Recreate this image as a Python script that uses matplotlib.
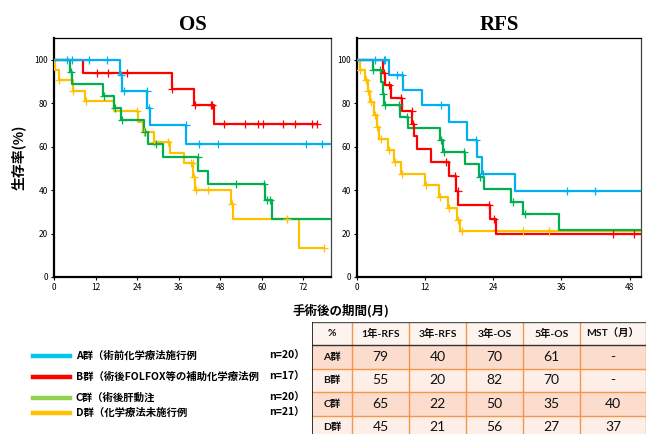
import numpy as np
import matplotlib
matplotlib.use('Agg')
import matplotlib.pyplot as plt
from matplotlib.lines import Line2D
from matplotlib.patches import Rectangle

plt.rcParams['font.family'] = ['Noto Sans CJK JP', 'DejaVu Sans']

W, H = 646, 434

# ---- OS の生存曲線データ (月, %) ----
os_a_t = [19.0, 19.6, 27.0, 27.6, 38.2]
os_a_s = [92.8, 85.7, 78.0, 70.1, 61.4]
os_a_end = 80
os_a_cens = [3.7, 5.1, 10.0, 15.3, 19.3, 20.3, 26.8, 27.3, 38.0, 42.0, 47.5, 72.7, 77.3]

os_b_t = [8.5, 34.0, 40.5, 46.1]
os_b_s = [93.9, 86.7, 79.0, 70.4]
os_b_end = 75.9
os_b_cens = [12.4, 15.5, 21.0, 34.2, 40.7, 45.2, 45.7, 49.0, 55.2, 59.0, 60.4, 66.2, 69.6, 74.4, 75.9]

os_c_t = [4.6, 5.1, 14.1, 17.4, 19.4, 26.0, 27.2, 31.6, 41.7, 44.4, 60.85, 62.9]
os_c_s = [94.5, 88.9, 83.3, 77.7, 72.2, 66.6, 61.0, 55.4, 49.0, 42.8, 35.6, 26.7]
os_c_end = 80
os_c_cens = [4.8, 14.3, 17.6, 19.6, 26.2, 29.6, 41.5, 52.6, 60.7, 61.6, 62.3]

os_d_t = [0.4, 1.4, 5.4, 9.0, 17.2, 24.2, 25.8, 28.9, 33.4, 37.6, 40.2, 40.8, 51.2, 51.6, 70.9]
os_d_s = [95.2, 90.5, 85.7, 81.0, 76.2, 71.4, 66.7, 62.0, 57.0, 52.4, 46.0, 40.0, 33.5, 26.8, 13.4]
os_d_end = 78.1
os_d_cens = [1.5, 5.6, 9.1, 24.0, 25.9, 29.0, 33.0, 39.5, 40.0, 40.5, 40.9, 44.4, 51.4, 67.4, 78.1]

# ---- RFS の生存曲線データ ----
rfs_a_t = [5.7, 8.1, 11.5, 16.2, 19.4, 21.2, 22.0, 27.8]
rfs_a_s = [93.0, 86.2, 79.0, 71.2, 63.2, 55.1, 47.2, 39.5]
rfs_a_end = 50
rfs_a_cens = [3.2, 4.7, 4.9, 7.0, 7.9, 14.8, 21.0, 22.2, 37.0, 41.9]

rfs_b_t = [4.6, 5.0, 6.05, 7.9, 9.7, 10.0, 10.5, 13.1, 16.2, 17.5, 17.8, 23.4, 24.4]
rfs_b_s = [94.1, 88.2, 82.4, 76.5, 70.6, 64.7, 58.8, 52.9, 46.4, 39.8, 33.1, 26.5, 19.8]
rfs_b_end = 50
rfs_b_cens = [4.8, 5.7, 7.8, 9.6, 9.9, 15.6, 17.3, 17.7, 23.2, 24.1, 45.1, 48.8]

rfs_c_t = [2.8, 4.2, 4.5, 4.8, 7.5, 9.0, 14.7, 15.1, 19.0, 21.4, 22.4, 27.2, 29.3, 35.5]
rfs_c_s = [95.1, 89.6, 84.4, 79.2, 73.7, 68.5, 63.2, 57.4, 51.8, 46.1, 40.3, 34.5, 28.8, 21.6]
rfs_c_end = 50
rfs_c_cens = [2.9, 4.1, 4.6, 5.0, 7.4, 8.8, 14.8, 15.3, 18.8, 21.6, 27.4, 29.5]

rfs_d_t = [0.47, 1.35, 1.9, 2.35, 3.05, 3.5, 3.8, 5.4, 6.5, 7.75, 12.0, 14.4, 16.0, 17.6, 18.2]
rfs_d_s = [95.2, 90.5, 85.7, 80.5, 74.5, 69.0, 63.7, 58.5, 53.0, 47.6, 42.3, 37.0, 31.7, 26.4, 21.1]
rfs_d_end = 50
rfs_d_cens = [0.6, 1.5, 2.0, 2.5, 3.1, 3.6, 4.2, 5.6, 6.7, 8.0, 12.2, 14.6, 16.2, 17.8, 18.4, 29.2, 33.8]

# ---- 凡例 ----
groups = ['A群（術前化学療法施行例', 'B群（術後FOLFOX等の補助化学療法例',
          'C群（術後肝動注', 'D群（化学療法未施行例']
group_n = ['n=20）', 'n=17）', 'n=20）', 'n=21）']
curve_colors = ['#00b0f0', '#ff0000', '#00b050', '#ffc000']
legend_colors = ['#00c8e8', '#ff0000', '#92d050', '#ffc000']

# ---- 表 ----
tbl_header = ['%', '1年-RFS', '3年-RFS', '3年-OS', '5年-OS', 'MST（月）']
tbl_rows = ['A群', 'B群', 'C群', 'D群']
rfs_1y = [79, 55, 65, 45]
rfs_3y = [40, 20, 22, 21]
os_3y = [70, 82, 50, 56]
os_5y = [61, 70, 35, 27]
mst = ['-', '-', '40', '37']


def km(ax, t, s, end, cens, color):
    x = np.array([0] + t + [end])
    y = np.array([100] + s + [s[-1]])
    ax.step(x, y, where='post', color=color, lw=1.6, zorder=3)
    c = np.array(cens)
    idx = np.searchsorted(x, c, side='right') - 1
    ax.plot(c, y[idx], linestyle='none', marker='+', ms=6, mew=0.9,
            color=color, zorder=4)


def style(ax, xmax, xticks, title):
    ax.set_xlim(0, xmax)
    ax.set_ylim(0, 110)
    ax.set_xticks(xticks)
    ax.set_yticks([0, 20, 40, 60, 80, 100])
    ax.tick_params(direction='out', length=2.5, width=0.8, labelsize=6, pad=2)
    for side in ['left', 'bottom']:
        ax.spines[side].set_linewidth(1.6)
    for side in ['top', 'right']:
        ax.spines[side].set_linewidth(0.9)
    ax.spines['right'].set_color('#444444')
    ax.set_title(title, fontsize=15, fontweight='bold',
                 family='Liberation Serif', pad=6)


fig = plt.figure(figsize=(W / 100, H / 100), dpi=100)

ax1 = fig.add_axes([54 / W, 1 - 277 / H, 277 / W, 239 / H])
km(ax1, os_d_t, os_d_s, os_d_end, os_d_cens, curve_colors[3])
km(ax1, os_c_t, os_c_s, os_c_end, os_c_cens, curve_colors[2])
km(ax1, os_b_t, os_b_s, os_b_end, os_b_cens, curve_colors[1])
km(ax1, os_a_t, os_a_s, os_a_end, os_a_cens, curve_colors[0])
style(ax1, 80, [0, 12, 24, 36, 48, 60, 72], 'OS')
ax1.set_ylabel('生存率(%)', fontsize=10, fontweight='bold', labelpad=6)

ax2 = fig.add_axes([357 / W, 1 - 277 / H, 284 / W, 239 / H])
km(ax2, rfs_d_t, rfs_d_s, rfs_d_end, rfs_d_cens, curve_colors[3])
km(ax2, rfs_c_t, rfs_c_s, rfs_c_end, rfs_c_cens, curve_colors[2])
km(ax2, rfs_b_t, rfs_b_s, rfs_b_end, rfs_b_cens, curve_colors[1])
km(ax2, rfs_a_t, rfs_a_s, rfs_a_end, rfs_a_cens, curve_colors[0])
style(ax2, 50, [0, 12, 24, 36, 48], 'RFS')

fig.text(341 / W, 1 - 311 / H, '手術後の期間(月)', fontsize=9, fontweight='bold',
         ha='center', va='center')

# 凡例
leg_y = [356, 377, 398, 413]
for i in range(4):
    yy = 1 - leg_y[i] / H
    fig.lines.append(Line2D([33 / W, 70 / W], [yy, yy], color=legend_colors[i],
                            lw=3.2, transform=fig.transFigure))
    fig.text(76 / W, yy, groups[i], fontsize=7.5, fontweight='bold',
             va='center', ha='left', family=['Noto Sans CJK JP', 'DejaVu Sans'])
    fig.text(269 / W, yy, group_n[i], fontsize=7.5, fontweight='bold',
             va='center', ha='left', family=['Noto Sans CJK JP', 'DejaVu Sans'])

# 表
col_w = [40, 57, 57, 57, 57, 66]
row_h = 23.4
tx0, ty0 = 312, 322
tw = sum(col_w)
th = row_h * 5
axt = fig.add_axes([tx0 / W, 1 - (ty0 + th) / H, tw / W, th / H])
axt.set_xlim(0, tw)
axt.set_ylim(th, 0)
axt.axis('off')
edges = np.concatenate([[0], np.cumsum(col_w)])
row_colors = ['#fdf3ef', '#fbdccd', '#fdeee8', '#fbdccd', '#fdeee8']
tfont = ['Lato', 'Noto Sans CJK JP']
table_vals = [list(r) for r in zip(rfs_1y, rfs_3y, os_3y, os_5y, mst)]
for r in range(5):
    axt.add_patch(Rectangle((0, r * row_h), tw, row_h, facecolor=row_colors[r],
                            edgecolor='none', zorder=1))
    yc = r * row_h + row_h / 2
    if r == 0:
        cells = tbl_header
    else:
        cells = [tbl_rows[r - 1]] + [str(v) for v in table_vals[r - 1]]
    for c in range(6):
        xc = (edges[c] + edges[c + 1]) / 2
        bold = (r == 0 or c == 0)
        axt.text(xc, yc, cells[c], ha='center', va='center',
                 fontsize=7.5 if bold else 10, fontweight='bold' if bold else 'normal',
                 family=tfont, color='#111111', zorder=3)
for e in edges[1:]:
    axt.plot([e, e], [0, th], color='#f79646', lw=1.0, zorder=2)
for r in range(2, 5):
    axt.plot([0, tw], [r * row_h, r * row_h], color='#f79646', lw=1.0, zorder=2)
axt.plot([0, tw], [row_h, row_h], color='#333333', lw=1.0, zorder=2)
axt.plot([0, tw], [0, 0], color='#555555', lw=1.0, zorder=2)
axt.plot([0, 0], [0, th], color='#111111', lw=1.2, zorder=2)

fig.savefig('out.png', dpi=100)
